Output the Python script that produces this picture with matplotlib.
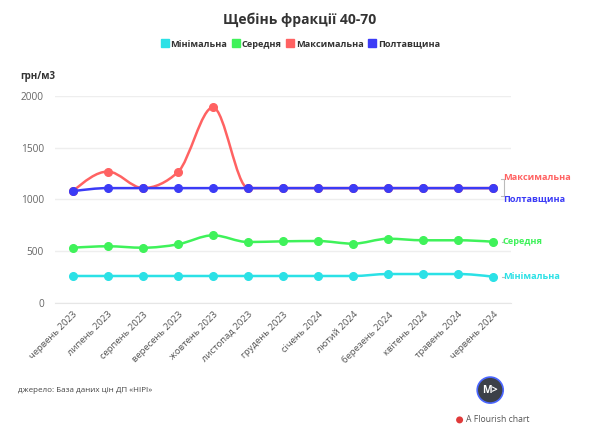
import matplotlib.pyplot as plt
import numpy as np
from matplotlib.path import Path
from matplotlib.patches import PathPatch, Ellipse
from matplotlib.lines import Line2D

plt.rcParams['font.family'] = ['Open Sans', 'DejaVu Sans']

months = ['червень 2023', 'липень 2023', 'серпень 2023', 'вересень 2023', 'жовтень 2023',
          'листопад 2023', 'грудень 2023', 'січень 2024', 'лютий 2024', 'березень 2024',
          'квітень 2024', 'травень 2024', 'червень 2024']
minimal = [261, 261, 261, 261, 261, 261, 261, 261, 261, 280, 280, 280, 254]
average = [534, 548, 534, 567, 654, 589, 596, 599, 573, 621, 606, 606, 592]
maximal = [1080, 1270, 1110, 1265, 1890, 1110, 1110, 1110, 1110, 1110, 1110, 1110, 1110]
poltava = [1080, 1110, 1110, 1110, 1110, 1110, 1110, 1110, 1110, 1110, 1110, 1110, 1110]

names = ['Мінімальна', 'Середня', 'Максимальна', 'Полтавщина']
colors = ['#2be1e6', '#3ff25a', '#ff6262', '#3b3bf6']


def monotone_path(x, y):
    # d3 curveMonotoneX as bezier segments
    x = np.asarray(x, float)
    y = np.asarray(y, float)
    n = len(x)
    h = np.diff(x)
    s = np.diff(y) / h
    t = np.zeros(n)
    for i in range(1, n - 1):
        if s[i - 1] * s[i] <= 0:
            t[i] = 0
        else:
            p = (s[i - 1] * h[i] + s[i] * h[i - 1]) / (h[i - 1] + h[i])
            t[i] = (np.sign(s[i - 1]) + np.sign(s[i])) * min(abs(s[i - 1]), abs(s[i]), 0.5 * abs(p))
    t[0] = (3 * s[0] - t[1]) / 2
    t[-1] = (3 * s[-1] - t[-2]) / 2
    verts = [(x[0], y[0])]
    codes = [Path.MOVETO]
    for i in range(n - 1):
        dx = h[i] / 3
        verts += [(x[i] + dx, y[i] + dx * t[i]), (x[i + 1] - dx, y[i + 1] - dx * t[i + 1]), (x[i + 1], y[i + 1])]
        codes += [Path.CURVE4] * 3
    return Path(verts, codes)


fig = plt.figure(figsize=(6, 4.32), dpi=100)
ax = fig.add_axes([0.0917, 0.2986, 0.76, 0.4792])
xs = np.arange(len(months))

series = [minimal, average, maximal, poltava]
for k in range(4):
    vals = series[k]
    ax.add_patch(PathPatch(monotone_path(xs, vals), fill=False, edgecolor=colors[k], lw=1.8, zorder=2 + k))
    ax.plot(xs, vals, 'o', color=colors[k], markersize=5.5, zorder=2 + k, clip_on=False)

ax.set_xlim(-0.51, 12.51)
ax.set_ylim(0, 2000)
ax.set_yticks([0, 500, 1000, 1500, 2000])
ax.set_xticks(xs)
ax.set_xticklabels(months, rotation=45, ha='right', rotation_mode='anchor', fontsize=6.8, color='#555555')
ax.tick_params(axis='x', length=0, pad=5)
ax.tick_params(axis='y', length=0, labelsize=7.3, labelcolor='#666666', pad=8)
ax.grid(axis='y', color='#eeeeee', lw=1)
ax.set_axisbelow(True)
for sp in ['top', 'right', 'left']:
    ax.spines[sp].set_visible(False)
ax.spines['bottom'].set_color('#e6e6e6')

# end labels
lab = dict(xycoords=('axes fraction', 'data'), xytext=(-6, 0), textcoords='offset points',
           fontsize=6.6, fontweight='bold', va='center')
ax.annotate(names[2], xy=(1, 1215), color=colors[2], **lab)
ax.annotate(names[3], xy=(1, 1010), color=colors[3], **lab)
ax.plot([12.3, 12.3], [1030, 1200], color='#bbbbbb', lw=0.8, clip_on=False)
ax.plot([12.22, 12.3], [1200, 1200], color='#bbbbbb', lw=0.8, clip_on=False)
ax.plot([12.22, 12.3], [1030, 1030], color='#bbbbbb', lw=0.8, clip_on=False)
for k, yv in [(1, average[-1]), (0, minimal[-1])]:
    ax.plot([12.24, 12.32], [yv, yv], color='#bbbbbb', lw=0.8, clip_on=False)
    ax.annotate(names[k], xy=(1, yv), color=colors[k], **lab)

fig.text(0.5, 0.955, 'Щебінь фракції 40-70', ha='center', va='center', fontsize=10,
         fontweight='bold', color='#333333')
handles = [Line2D([], [], marker='s', ls='', color=c, markersize=6) for c in colors]
leg = fig.legend(handles, names, loc='center', bbox_to_anchor=(0.5, 0.898), ncol=4, frameon=False,
                 handletextpad=0.15, columnspacing=0.4, handlelength=1,
                 prop={'weight': 'bold', 'size': 6.6})
for txt in leg.get_texts():
    txt.set_color('#333333')

fig.text(0.033, 0.822, 'грн/м3', fontsize=7, fontweight='bold', color='#333333', va='center')
fig.text(0.03, 0.097, 'джерело: База даних цін ДП «НІРІ»', fontsize=5.8, color='#444444', va='center')

# logo + footer
fig.patches.append(Ellipse((0.817, 0.097), 26 / 600, 26 / 432, transform=fig.transFigure,
                           facecolor='#3c4048', edgecolor='#4a66ff', lw=1.2))
fig.text(0.817, 0.097, 'M>', ha='center', va='center', fontsize=7.5, color='white', fontweight='bold')
fig.patches.append(Ellipse((0.766, 0.028), 7 / 600, 7 / 432, transform=fig.transFigure,
                           facecolor='#e03a3a', edgecolor='none'))
fig.text(0.777, 0.028, 'A Flourish chart', fontsize=6.2, color='#555555', va='center')

fig.savefig('out.png', dpi=100)
